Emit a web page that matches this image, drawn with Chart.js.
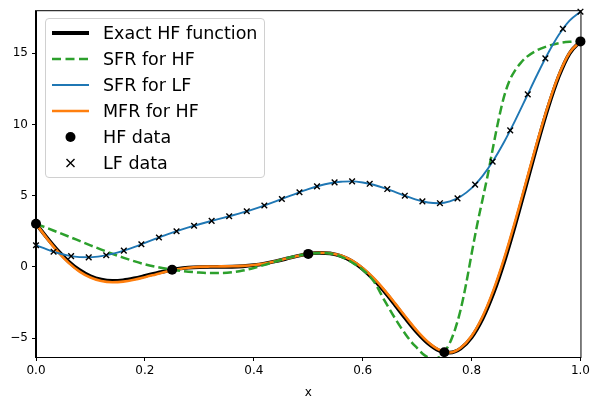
<!DOCTYPE html>
<html>
<head>
<meta charset="utf-8">
<script src="https://cdn.jsdelivr.net/npm/chart.js@4.4.1/dist/chart.umd.min.js"></script>
<style>
  body { margin: 0; background: #fff; }
  #wrap { position: relative; width: 593px; height: 401px; }
  #legend {
    position: absolute; left: 45px; top: 18px; width: 220px; height: 160px;
    box-sizing: border-box; border: 1px solid #d0d0d0; border-radius: 4px;
    background: rgba(255,255,255,0.8); padding-top: 1px;
    font-family: "DejaVu Sans", sans-serif; font-size: 17.5px; color: #000;
  }
  .row { height: 26px; display: flex; align-items: center; }
  .row svg { margin-left: 6px; margin-right: 14px; flex: none; }
</style>
</head>
<body>
<div id="wrap">
  <canvas id="chart" width="593" height="401"></canvas>
  <div id="legend"></div>
</div>
<script>
// grid used for the curves
const xGrid = [0, 0.02, 0.04, 0.06, 0.08, 0.1, 0.12, 0.14, 0.16, 0.18, 0.2, 0.22, 0.24, 0.26, 0.28, 0.3,
  0.32, 0.34, 0.36, 0.38, 0.4, 0.42, 0.44, 0.46, 0.48, 0.5, 0.52, 0.54, 0.56, 0.58, 0.6, 0.62, 0.64,
  0.66, 0.68, 0.7, 0.72, 0.74, 0.76, 0.78, 0.8, 0.82, 0.84, 0.86, 0.88, 0.9, 0.92, 0.94, 0.96, 0.98, 1];

// exact HF function
const hfExact = [3.027, 2.049, 1.144, 0.371, -0.234, -0.657, -0.900, -0.986, -0.945, -0.816, -0.640,
  -0.452, -0.282, -0.149, -0.061, -0.016, -0.001, 0.000, 0.008, 0.042, 0.115, 0.233, 0.392, 0.577,
  0.761, 0.909, 0.984, 0.945, 0.757, 0.396, -0.149, -0.870, -1.736, -2.698, -3.683, -4.606, -5.368,
  -5.870, -6.018, -5.729, -4.949, -3.656, -1.865, 0.367, 2.940, 5.712, 8.506, 11.122, 13.354, 14.988, 15.830];

// SFR for LF (blue)
const sfrLF = [1.514, 1.225, 0.972, 0.786, 0.683, 0.672, 0.750, 0.907, 1.127, 1.392, 1.680, 1.974,
  2.259, 2.525, 2.769, 2.992, 3.200, 3.400, 3.604, 3.821, 4.058, 4.317, 4.596, 4.889, 5.181, 5.455,
  5.692, 5.873, 5.979, 5.998, 5.925, 5.765, 5.532, 5.251, 4.958, 4.697, 4.516, 4.465, 4.591, 4.935,
  5.525, 6.372, 7.467, 8.784, 10.270, 11.856, 13.453, 14.961, 16.277, 17.294, 17.915];

// MFR for HF (orange)
const mfrHF = [3.03, 2.00, 1.07, 0.28, -0.33, -0.75, -1.00, -1.08, -1.04, -0.91, -0.73, -0.53, -0.33,
  -0.17, -0.06, 0.00, 0.02, 0.03, 0.04, 0.07, 0.13, 0.24, 0.40, 0.58, 0.76, 0.91, 0.99, 0.96, 0.79,
  0.45, -0.08, -0.78, -1.63, -2.58, -3.56, -4.49, -5.27, -5.81, -6.01, -5.68, -4.85, -3.50, -1.65,
  0.62, 3.20, 5.95, 8.70, 11.27, 13.45, 15.03, 15.83];

// SFR for HF (green dashed), finer around the dip
const sfrHFx = [0, 0.02, 0.04, 0.06, 0.08, 0.1, 0.12, 0.14, 0.16, 0.18, 0.2, 0.22, 0.24, 0.26, 0.28,
  0.3, 0.32, 0.34, 0.36, 0.38, 0.4, 0.42, 0.44, 0.46, 0.48, 0.5, 0.52, 0.54, 0.56, 0.58, 0.6, 0.62,
  0.64, 0.66, 0.67, 0.68, 0.69, 0.7, 0.71, 0.72, 0.73, 0.74, 0.75, 0.76, 0.77, 0.78, 0.79, 0.8, 0.81,
  0.82, 0.83, 0.84, 0.85, 0.86, 0.87, 0.88, 0.89, 0.9, 0.92, 0.94, 0.96, 0.98, 1];
const sfrHF = [3.03, 2.73, 2.43, 2.13, 1.82, 1.51, 1.21, 0.92, 0.65, 0.40, 0.18, 0.01, -0.13, -0.25,
  -0.34, -0.40, -0.43, -0.43, -0.38, -0.26, -0.08, 0.14, 0.38, 0.60, 0.78, 0.91, 0.98, 0.93, 0.72,
  0.32, -0.20, -1.00, -2.35, -3.65, -4.25, -4.80, -5.30, -5.70, -6.10, -6.35, -6.45, -6.35, -5.99,
  -5.35, -4.35, -3.00, -1.20, 0.90, 2.90, 4.70, 6.50, 8.50, 10.40, 12.00, 13.10, 13.80, 14.30,
  14.70, 15.20, 15.50, 15.70, 15.80, 15.83];

// HF data
const hfX = [0, 0.25, 0.5, 0.75, 1];
const hfY = [3.027, -0.210, 0.909, -5.993, 15.830];

// LF data
const lfX = [0, 0.0323, 0.0645, 0.0968, 0.1290, 0.1613, 0.1935, 0.2258, 0.2581, 0.2903, 0.3226,
  0.3548, 0.3871, 0.4194, 0.4516, 0.4839, 0.5161, 0.5484, 0.5806, 0.6129, 0.6452, 0.6774, 0.7097,
  0.7419, 0.7742, 0.8065, 0.8387, 0.8710, 0.9032, 0.9355, 0.9677, 1];
const lfY = [1.514, 1.063, 0.755, 0.667, 0.812, 1.144, 1.586, 2.058, 2.500, 2.887, 3.226, 3.550,
  3.902, 4.308, 4.765, 5.235, 5.650, 5.927, 5.997, 5.831, 5.463, 4.995, 4.596, 4.469, 4.812, 5.771,
  7.390, 9.582, 12.115, 14.636, 16.712, 17.915];

const xTicks = [0, 0.2, 0.4, 0.6, 0.8, 1.0];
const yTicks = [-5, 0, 5, 10, 15];

const pts = (xs, ys) => xs.map((x, i) => ({ x: x, y: ys[i] }));

const FONT = '"DejaVu Sans", sans-serif';

// top and right spines (chart.js only draws the axis borders)
const frame = {
  id: 'frame',
  beforeDatasetsDraw(chart) {
    const a = chart.chartArea, c = chart.ctx;
    c.save();
    c.strokeStyle = '#000';
    c.lineWidth = 1;
    c.strokeRect(a.left - 0.5, a.top - 0.5, a.right - a.left + 1, a.bottom - a.top + 1);
    c.restore();
  }
};

new Chart(document.getElementById('chart'), {
  type: 'line',
  data: {
    datasets: [
      { label: 'HF data', data: pts(hfX, hfY), showLine: false, pointRadius: 5, pointStyle: 'circle',
        pointBackgroundColor: '#000', pointBorderColor: '#000', pointBorderWidth: 0, order: 0, clip: false },
      { label: 'LF data', data: pts(lfX, lfY), showLine: false, pointRadius: 4, pointStyle: 'crossRot',
        pointBorderColor: '#000', pointBorderWidth: 1.4, order: 1, clip: false },
      { label: 'SFR for LF', data: pts(xGrid, sfrLF), borderColor: '#1f77b4', borderWidth: 1.9,
        pointRadius: 0, cubicInterpolationMode: 'monotone', order: 2, clip: 0 },
      { label: 'SFR for HF', data: pts(sfrHFx, sfrHF), borderColor: '#2ca02c', borderWidth: 2.5,
        borderDash: [9, 4], pointRadius: 0, cubicInterpolationMode: 'monotone', order: 3, clip: 0 },
      { label: 'MFR for HF', data: pts(xGrid, mfrHF), borderColor: '#ff7f0e', borderWidth: 2.6,
        pointRadius: 0, cubicInterpolationMode: 'monotone', order: 4, clip: 0 },
      { label: 'Exact HF function', data: pts(xGrid, hfExact), borderColor: '#000', borderWidth: 3.8,
        pointRadius: 0, cubicInterpolationMode: 'monotone', order: 5, clip: 0 }
    ]
  },
  options: {
    responsive: false,
    animation: false,
    layout: { padding: { top: 8, right: 11, left: 0, bottom: 0 } },
    plugins: { legend: { display: false }, tooltip: { enabled: false } },
    scales: {
      x: {
        type: 'linear', min: 0, max: 1,
        afterBuildTicks: s => { s.ticks = xTicks.map(v => ({ value: v })); },
        afterFit: s => { s.height = 44; },
        ticks: { color: '#000', font: { family: FONT, size: 12 }, padding: 3,
          callback: v => v.toFixed(1), maxRotation: 0 },
        grid: { drawOnChartArea: false, tickLength: 4, tickColor: '#000' },
        border: { color: '#000', width: 1 },
        title: { display: true, text: 'x', color: '#000', font: { family: FONT, size: 12 },
          padding: { top: 0, bottom: 1 } }
      },
      y: {
        type: 'linear', min: -6.33, max: 17.95,
        afterBuildTicks: s => { s.ticks = yTicks.map(v => ({ value: v })); },
        afterFit: s => { s.width = 36; },
        ticks: { color: '#000', font: { family: FONT, size: 12 }, padding: 4,
          callback: v => (v < 0 ? '\u2212' + Math.abs(v) : String(v)) },
        grid: { drawOnChartArea: false, tickLength: 4, tickColor: '#000' },
        border: { color: '#000', width: 1 }
      }
    }
  },
  plugins: [frame]
});

// legend as html
const legendItems = [
  ['Exact HF function', '<line x1="0" y1="13" x2="37" y2="13" stroke="#000" stroke-width="3.8"/>'],
  ['SFR for HF', '<line x1="0" y1="13" x2="37" y2="13" stroke="#2ca02c" stroke-width="2.5" stroke-dasharray="9 4.5"/>'],
  ['SFR for LF', '<line x1="0" y1="13" x2="37" y2="13" stroke="#1f77b4" stroke-width="1.9"/>'],
  ['MFR for HF', '<line x1="0" y1="13" x2="37" y2="13" stroke="#ff7f0e" stroke-width="2.6"/>'],
  ['HF data', '<circle cx="18.5" cy="13" r="5" fill="#000"/>'],
  ['LF data', '<path d="M14.5 9 L22.5 17 M22.5 9 L14.5 17" stroke="#000" stroke-width="1.4"/>']
];
const leg = document.getElementById('legend');
legendItems.forEach(([label, glyph]) => {
  const row = document.createElement('div');
  row.className = 'row';
  row.innerHTML = '<svg width="37" height="26">' + glyph + '</svg><span>' + label + '</span>';
  leg.appendChild(row);
});
</script>
</body>
</html>
